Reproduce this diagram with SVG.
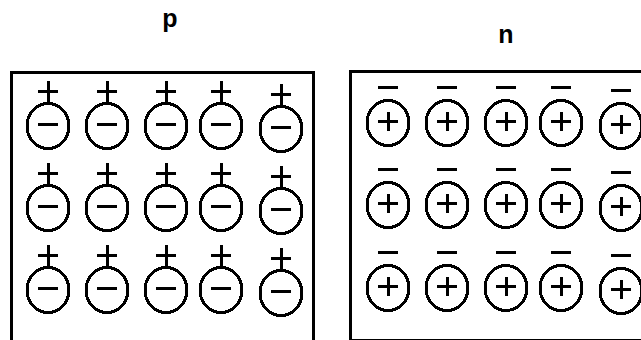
<svg xmlns="http://www.w3.org/2000/svg" xmlns:xlink="http://www.w3.org/1999/xlink" width="641" height="340" viewBox="0 0 641 340">
  <style>
    .box { fill: none; stroke: #000; stroke-width: 3; shape-rendering: crispEdges; }
    .ion { fill: none; stroke: #000; stroke-width: 3; shape-rendering: crispEdges; }
    .label { font-family: "Liberation Sans", Arial, sans-serif; font-weight: bold; font-size: 25px; fill: #000; }
  </style>
  <defs>
    <!-- acceptor: fixed negative ion with its hole (+) above -->
    <g id="acceptor" class="ion">
      <ellipse cx="0" cy="0" rx="21" ry="22.5"/>
      <line x1="-10" y1="-2" x2="10" y2="-2"/>
      <line x1="0" y1="-45" x2="0" y2="-24"/>
      <line x1="-10" y1="-35" x2="10" y2="-35"/>
    </g>
    <!-- donor: fixed positive ion with its electron (-) above -->
    <g id="donor" class="ion">
      <ellipse cx="0" cy="0" rx="21" ry="22.5"/>
      <line x1="-10" y1="-2" x2="10" y2="-2"/>
      <line x1="0" y1="-11" x2="0" y2="8"/>
      <line x1="-10" y1="-36" x2="10" y2="-36"/>
    </g>
  </defs>

  <g id="p-region">
    <text class="label" x="170" y="27" text-anchor="middle">p</text>
    <rect class="box" x="11.5" y="72.5" width="302" height="290"/>
    <use xlink:href="#acceptor" x="48" y="126"/>
    <use xlink:href="#acceptor" x="107" y="126"/>
    <use xlink:href="#acceptor" x="166" y="126"/>
    <use xlink:href="#acceptor" x="221" y="126"/>
    <use xlink:href="#acceptor" x="281" y="129"/>
    <use xlink:href="#acceptor" x="48" y="208"/>
    <use xlink:href="#acceptor" x="107" y="208"/>
    <use xlink:href="#acceptor" x="166" y="208"/>
    <use xlink:href="#acceptor" x="221" y="208"/>
    <use xlink:href="#acceptor" x="281" y="211"/>
    <use xlink:href="#acceptor" x="48" y="290"/>
    <use xlink:href="#acceptor" x="107" y="290"/>
    <use xlink:href="#acceptor" x="166" y="290"/>
    <use xlink:href="#acceptor" x="221" y="290"/>
    <use xlink:href="#acceptor" x="281" y="293"/>
  </g>

  <g id="n-region">
    <text class="label" x="506" y="43" text-anchor="middle">n</text>
    <rect class="box" x="350.5" y="71.5" width="320" height="268.5"/>
    <use xlink:href="#donor" x="388" y="123"/>
    <use xlink:href="#donor" x="447" y="123"/>
    <use xlink:href="#donor" x="506" y="123"/>
    <use xlink:href="#donor" x="561" y="123"/>
    <use xlink:href="#donor" x="621" y="126"/>
    <use xlink:href="#donor" x="388" y="205"/>
    <use xlink:href="#donor" x="447" y="205"/>
    <use xlink:href="#donor" x="506" y="205"/>
    <use xlink:href="#donor" x="561" y="205"/>
    <use xlink:href="#donor" x="621" y="208"/>
    <use xlink:href="#donor" x="388" y="288"/>
    <use xlink:href="#donor" x="447" y="288"/>
    <use xlink:href="#donor" x="506" y="288"/>
    <use xlink:href="#donor" x="561" y="288"/>
    <use xlink:href="#donor" x="621" y="291"/>
  </g>
</svg>
